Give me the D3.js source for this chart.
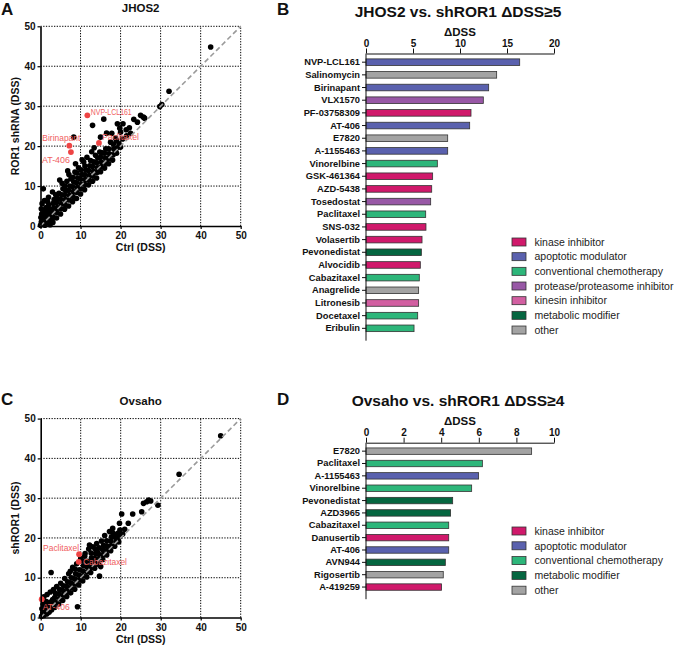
<!DOCTYPE html>
<html><head><meta charset="utf-8">
<script src="https://cdn.jsdelivr.net/npm/d3@7"></script>
<style>
body{margin:0;background:#fff;}
svg{display:block;font-family:"Liberation Sans",Arial,sans-serif;}
</style></head>
<body><svg id="c" width="675" height="647"></svg>
<script>
// ---------------- DATA ----------------
const scatterTicks = [0, 10, 20, 30, 40, 50];
const pointsA = [
[0,0.2],[0.2,1.0],[0.1,2.1],[0.3,3.0],[0.2,4.3],[0.4,5.6],[0.6,0.6],[0.8,1.7],[0.7,2.8],[0.9,3.9],
[1.1,0.2],[1.3,1.2],[1.2,2.4],[1.5,3.3],[1.4,4.6],[1.7,0.8],[1.9,2.0],[2.0,3.0],[2.2,4.2],[2.1,5.3],
[2.4,0.3],[2.6,1.5],[2.7,2.6],[2.9,3.8],[1.0,6.4],[1.8,6.0],[2.0,7.2],[3.0,8.5],[3.8,7.8],
[3.1,0.9],[3.2,2.2],[3.0,3.3],[3.3,4.5],[3.2,5.7],[3.4,6.6],
[4.0,2.0],[4.1,3.4],[4.2,4.6],[4.0,5.8],[4.3,6.9],[4.6,8.2],[4.8,11.5],
[5.0,3.0],[5.1,4.3],[5.2,5.5],[5.0,6.7],[5.3,7.8],[5.4,10.7],[5.6,9.3],
[6.0,4.2],[6.1,5.4],[6.2,6.6],[6.0,7.8],[6.3,8.9],[6.1,10.0],[6.6,11.2],[6.8,13.8],
[7.0,5.0],[7.1,6.5],[7.2,7.7],[7.0,8.9],[7.3,10.0],[7.1,12.9],[7.6,11.8],
[8.0,6.1],[8.1,7.4],[8.2,8.6],[8.0,9.8],[8.3,11.0],[8.1,12.2],[8.6,13.5],
[9.0,6.9],[9.1,8.4],[9.2,9.6],[9.0,10.8],[9.3,12.0],[9.1,13.3],[8.75,15.6],[9.5,14.6],
[10.0,8.0],[10.1,9.3],[10.2,10.5],[10.0,11.7],[10.3,12.9],[10.1,14.1],[10.4,16.6],[10.8,16.0],
[11.0,9.1],[11.1,10.4],[11.2,11.6],[11.0,12.8],[11.3,14.0],[11.1,15.0],[11.6,17.2],
[12.0,10.3],[12.1,11.5],[12.2,12.7],[12.0,13.9],[12.3,15.1],[12.5,16.4],[12.8,18.6],
[13.0,11.2],[13.1,12.5],[13.2,13.7],[13.0,14.9],[13.3,16.1],[13.75,17.7],[13.4,19.6],
[14.0,12.0],[14.1,13.4],[14.2,14.6],[14.0,15.8],[14.3,17.0],[14.8,18.5],[15.0,22.25],
[15.0,13.6],[15.1,14.8],[15.2,16.0],[15.0,17.2],[15.4,18.3],
[16.0,14.5],[16.1,15.7],[16.5,15.9],[16.2,17.0],[16.0,18.2],[16.3,19.3],[16.5,23.25],
[17.0,15.6],[17.1,16.9],[17.2,18.1],[17.0,19.3],[17.5,21.0],[17.8,23.2],
[18.0,16.5],[18.1,17.8],[18.3,19.3],[18.75,18.5],[18.2,20.5],[18.75,22.0],
[19.0,18.2],[19.2,19.6],[19.6,20.6],[19.2,25.6],[19.0,21.4],[19.8,24.5],
[20.0,19.75],[20.0,23.5],[20.6,25.6],[21.4,24.1],[20.5,21.8],[22.5,23.2],[24.2,26.0],[26.0,27.0],
[0.7,9.3],[8.3,22.25],[13.0,25.2],[15.8,26.75],[23.3,26.7],[25.0,27.7],[25.7,27.25],
[29.8,29.9],[30.3,30.4],[32.1,33.75],[42.5,44.8],[16.8,16.75],[21.5,22.6],[22.2,24.6]
];
const highlightA = [
  {name:"NVP-LCL161", x:11.7, y:27.7},
  {name:"Birinapant", x:7.2, y:20.1},
  {name:"AT-406", x:7.6, y:18.5},
  {name:"Paclitaxel", x:14.6, y:20.8}
];
const pointsC = [
[0.2,0.3],[0.5,1.2],[0.3,2.2],[0.8,0.5],[1.0,1.8],[1.2,2.9],[1.5,0.9],[1.7,2.2],[1.9,3.4],[2.1,1.3],
[2.3,2.6],[2.5,3.9],[2.7,1.9],[2.9,3.1],[3.0,4.5],[0.6,3.3],[1.4,4.0],[0.8,5.2],[1.6,5.8],[2.4,6.4],[3.2,7.0],
[3.5,2.5],[3.6,3.8],[3.5,5.0],[3.7,6.1],[4.0,7.8],
[4.5,3.4],[4.6,4.7],[4.5,5.9],[4.7,7.1],[5.0,8.6],
[5.5,4.3],[5.6,5.6],[5.5,6.8],[5.7,8.0],[6.0,9.8],
[6.5,5.3],[6.6,6.6],[6.5,7.8],[6.7,9.0],[7.0,11.0],
[7.5,6.2],[7.6,7.5],[7.5,8.7],[7.7,10.0],[7.4,11.6],[8.0,12.6],
[8.5,7.1],[8.6,8.4],[8.5,9.7],[8.7,11.0],[8.6,12.2],[9.0,13.5],
[9.5,8.2],[9.6,9.5],[9.5,10.7],[9.7,12.0],[10.0,14.8],
[10.5,9.2],[10.6,10.5],[10.5,11.7],[10.7,13.0],[10.4,14.2],[11.0,15.4],
[11.5,10.2],[11.6,11.5],[11.5,12.8],[11.7,14.1],[11.1,16.1],[12.2,18.2],[12.0,17.2],
[12.5,11.3],[12.6,12.6],[12.5,13.8],[12.7,15.0],[12.6,16.2],[13.0,17.8],
[13.5,12.4],[13.6,13.7],[13.5,14.9],[13.7,16.1],[13.6,17.3],[14.0,18.6],
[14.5,13.4],[14.6,14.7],[14.5,15.9],[14.2,16.4],[14.6,17.5],[14.7,10.4],[15.0,12.8],
[15.5,14.6],[15.6,15.8],[15.5,17.0],[15.7,18.1],[15.2,19.2],
[16.5,15.7],[16.6,16.9],[16.5,18.0],[16.5,19.3],[16.0,20.6],
[17.5,16.8],[17.6,18.0],[17.5,19.2],[17.7,20.3],[17.2,21.6],
[18.5,17.9],[18.2,21.1],[18.8,19.0],[18.6,20.2],[18.0,22.4],
[19.5,19.0],[19.6,20.2],[19.8,22.0],[19.7,23.7],[19.4,21.2],
[20.25,26.0],[20.5,21.0],[21.0,22.2],[21.9,23.7],[23.0,26.0],[25.25,26.6],[25.7,28.7],
[26.5,29.1],[27.0,29.5],[27.5,29.3],[29.3,28.2],[34.6,36.0],[45.0,45.7],
[2.6,11.3],[9.2,2.7]
];
const highlightC = [
  {name:"Paclitaxel", x:9.6, y:15.9},
  {name:"Cabazitaxel", x:9.5, y:14.0},
  {name:"AT-406", x:0.25, y:4.6}
];

const classes = ["kinase inhibitor","apoptotic modulator","conventional chemotherapy",
  "protease/proteasome inhibitor","kinesin inhibitor","metabolic modifier","other"];
const classColors = ["#d0196b","#5a61ae","#2db67a","#9858a6","#d25fa1","#056640","#a3a3a3"];

const drugsB = ["NVP-LCL161","Salinomycin","Birinapant","VLX1570","PF-03758309","AT-406","E7820",
  "A-1155463","Vinorelbine","GSK-461364","AZD-5438","Tosedostat","Paclitaxel","SNS-032","Volasertib",
  "Pevonedistat","Alvocidib","Cabazitaxel","Anagrelide","Litronesib","Docetaxel","Eribulin"];
const valuesB = [16.35,13.9,13.05,12.48,11.17,11.03,8.69,8.69,7.59,7.09,6.99,6.88,6.35,6.38,5.96,
  5.89,5.78,5.67,5.60,5.60,5.50,5.11];
const classB = ["apoptotic modulator","other","apoptotic modulator","protease/proteasome inhibitor",
  "kinase inhibitor","apoptotic modulator","other","apoptotic modulator","conventional chemotherapy",
  "kinase inhibitor","kinase inhibitor","protease/proteasome inhibitor","conventional chemotherapy",
  "kinase inhibitor","kinase inhibitor","metabolic modifier","kinase inhibitor","conventional chemotherapy",
  "other","kinesin inhibitor","conventional chemotherapy","conventional chemotherapy"];
const ticksB = [0,5,10,15,20];
const legendB = classes;

const drugsD = ["E7820","Paclitaxel","A-1155463","Vinorelbine","Pevonedistat","AZD3965","Cabazitaxel",
  "Danusertib","AT-406","AVN944","Rigosertib","A-419259"];
const valuesD = [8.81,6.19,5.99,5.62,4.61,4.50,4.40,4.40,4.40,4.22,4.11,4.02];
const classD = ["other","conventional chemotherapy","apoptotic modulator","conventional chemotherapy",
  "metabolic modifier","metabolic modifier","conventional chemotherapy","kinase inhibitor",
  "apoptotic modulator","metabolic modifier","other","kinase inhibitor"];
const ticksD = [0,2,4,6,8,10];
const legendD = ["kinase inhibitor","apoptotic modulator","conventional chemotherapy","metabolic modifier","other"];

// ---------------- DRAW ----------------
const svg = d3.select("#c");
const color = d3.scaleOrdinal().domain(classes).range(classColors);
const F = "'Liberation Sans',Arial,sans-serif";

function panelLetter(t, x, y){
  svg.append("text").attr("x",x).attr("y",y).text(t)
    .attr("font-size",17).attr("font-weight","bold").attr("fill","#111");
}

function scatter(opt){
  const g = svg.append("g");
  const x = d3.scaleLinear().domain([0,50]).range([opt.x0, opt.x1]);
  const y = d3.scaleLinear().domain([0,50]).range([opt.y0, opt.y1]);
  scatterTicks.filter(t=>t>0).forEach(t=>{
    g.append("line").attr("x1",x(t)).attr("x2",x(t)).attr("y1",y(0)).attr("y2",y(50))
      .attr("stroke","#000").attr("stroke-width",1).attr("stroke-dasharray","1.3,1.4");
    g.append("line").attr("x1",x(0)).attr("x2",x(50)).attr("y1",y(t)).attr("y2",y(t))
      .attr("stroke","#000").attr("stroke-width",1).attr("stroke-dasharray","1.3,1.4");
  });
  g.append("g").selectAll("circle").data(opt.points).join("circle")
    .attr("cx",d=>x(d[0])).attr("cy",d=>y(d[1])).attr("r",2.8).attr("fill","#000");
  g.append("line").attr("x1",x(0)).attr("y1",y(0)).attr("x2",x(50)).attr("y2",y(50))
    .attr("stroke","#9a9a9a").attr("stroke-width",1.6).attr("stroke-dasharray","5,3");
  g.append("g").selectAll("circle").data(opt.hl).join("circle")
    .attr("cx",d=>x(d.x)).attr("cy",d=>y(d.y)).attr("r",2.9).attr("fill","#ee4444");
  g.append("g").selectAll("text").data(opt.hl).join("text")
    .attr("x",(d,i)=>x(d.x)+opt.lab[i][0]).attr("y",(d,i)=>y(d.y)+opt.lab[i][1])
    .attr("text-anchor",(d,i)=>opt.lab[i][2]).attr("font-size",9).attr("fill","#f06060")
    .attr("textLength",(d,i)=>opt.lab[i][3]).attr("lengthAdjust","spacingAndGlyphs")
    .text(d=>d.name);
  const ax = g.append("g").attr("transform",`translate(0,${y(0)})`)
    .call(d3.axisBottom(x).tickValues(scatterTicks).tickSize(3).tickPadding(3).tickSizeOuter(0));
  const ay = g.append("g").attr("transform",`translate(${x(0)},0)`)
    .call(d3.axisLeft(y).tickValues(scatterTicks).tickSize(3).tickPadding(2).tickSizeOuter(0));
  [ax,ay].forEach(a=>{
    a.select(".domain").attr("stroke","#000").attr("stroke-width",1.6);
    a.selectAll(".tick line").attr("stroke","#000").attr("stroke-width",1.2);
    a.selectAll("text").attr("font-size",10).attr("font-weight","bold").attr("font-family",F).attr("fill","#111");
  });
  g.append("text").attr("x",(opt.x0+opt.x1)/2).attr("y",opt.y1-14).attr("text-anchor","middle")
    .attr("font-size",11.5).attr("font-weight","bold").attr("fill","#111").text(opt.title);
  g.append("text").attr("x",(opt.x0+opt.x1)/2).attr("y",opt.y0+25).attr("text-anchor","middle")
    .attr("font-size",10.5).attr("font-weight","bold").attr("fill","#111").text("Ctrl (DSS)");
  g.append("text").attr("transform",`translate(${opt.x0-22},${(opt.y0+opt.y1)/2}) rotate(-90)`)
    .attr("text-anchor","middle").attr("font-size",10.5).attr("font-weight","bold").attr("fill","#111")
    .text(opt.ylab);
}

function bars(opt){
  const g = svg.append("g");
  const x = d3.scaleLinear().domain([0, opt.ticks[opt.ticks.length-1]]).range([366, 554]);
  const y = d3.scaleBand().domain(opt.drugs).range([opt.top - 0.7, opt.top - 0.7 + opt.drugs.length*opt.step]).padding(0.48);
  g.selectAll("rect").data(opt.drugs).join("rect")
    .attr("x",x(0)).attr("y",d=>y(d)).attr("height",y.bandwidth())
    .attr("width",(d,i)=>x(opt.values[i])-x(0))
    .attr("fill",(d,i)=>color(opt.cls[i])).attr("stroke","#333").attr("stroke-width",0.8);
  const ax = g.append("g").attr("transform",`translate(0,${opt.top})`)
    .call(d3.axisTop(x).tickValues(opt.ticks).tickSize(5).tickPadding(1.5).tickSizeOuter(0));
  const ay = g.append("g").attr("transform",`translate(${x(0)},0)`)
    .call(d3.axisLeft(y).tickSize(4).tickPadding(2).tickSizeOuter(0));
  ay.select(".domain").attr("d",`M0,${opt.top}V${opt.top - 0.7 + opt.drugs.length*opt.step + 3}`);
  [ax,ay].forEach(a=>{
    a.select(".domain").attr("stroke","#111").attr("stroke-width",1);
    a.selectAll(".tick line").attr("stroke","#111");
    a.selectAll("text").attr("font-weight","bold").attr("font-family",F).attr("fill","#111");
  });
  ax.selectAll("text").attr("font-size",10);
  ay.selectAll("text").attr("font-size",9.3);
  g.append("text").attr("x",460).attr("y",opt.top-18).attr("text-anchor","middle")
    .attr("font-size",11.5).attr("font-weight","bold").attr("fill","#111").text("\u0394DSS");
  g.append("text").attr("x",458).attr("y",opt.titleY).attr("text-anchor","middle")
    .attr("font-size",15.5).attr("font-weight","bold").attr("fill","#111").text(opt.title);
  const lg = g.append("g");
  opt.legend.forEach((c,i)=>{
    const yy = opt.legY + i*opt.legStep;
    lg.append("rect").attr("x",512).attr("y",yy-4).attr("width",14).attr("height",8)
      .attr("fill",color(c)).attr("stroke","#333").attr("stroke-width",0.8);
    lg.append("text").attr("x",534.5).attr("y",yy+3.8).attr("font-size",10.5).attr("fill","#222").text(c);
  });
}

panelLetter("A",1,15);
panelLetter("B",277,15);
panelLetter("C",1,405);
panelLetter("D",277,405);

scatter({x0:40.5,x1:240.7,y0:226,y1:26.3,points:pointsA,hl:highlightA,title:"JHOS2",
  ylab:"ROR1 shRNA (DSS)",
  lab:[[3.4,-0.7,"start",41],[11,-5,"end",38],[-1,11,"end",28],[3,-2.6,"start",37]]});
scatter({x0:40.7,x1:240.7,y0:617.5,y1:418.6,points:pointsC,hl:highlightC,title:"Ovsaho",
  ylab:"shROR1 (DSS)",
  lab:[[0,-3,"end",36],[4.3,3.4,"start",44],[1,11,"start",27]]});

bars({drugs:drugsB,values:valuesB,cls:classB,ticks:ticksB,top:53.5,step:12.95,
  title:"JHOS2 vs. shROR1 \u0394DSS\u22655",titleY:17,legend:legendB,legY:242,legStep:14.67});
bars({drugs:drugsD,values:valuesD,cls:classD,ticks:ticksD,top:442.7,step:12.85,
  title:"Ovsaho vs. shROR1 \u0394DSS\u22654",titleY:406,legend:legendD,legY:531,legStep:14.8});
</script></body></html>
